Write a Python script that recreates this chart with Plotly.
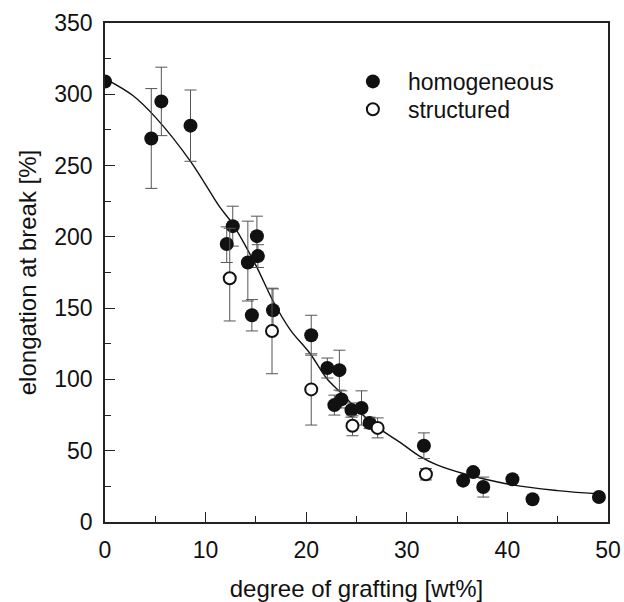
import plotly.graph_objects as go

# homogeneous samples
hom_x = [0, 4.6, 5.6, 8.5, 12.1, 12.7, 14.2, 15.1, 15.2, 14.6, 16.7, 20.5, 22.1, 23.3,
         22.8, 23.5, 24.5, 25.5, 26.3, 31.7, 35.6, 36.6, 37.6, 40.5, 42.5, 49.1]
hom_y = [309, 269, 295, 278, 195, 207.5, 182, 200.5, 186.5, 145, 148.5, 131, 108, 106.5,
         82, 86, 78.5, 80, 69.5, 53.5, 29, 35, 24.5, 30, 16, 17.5]
hom_err_plus = [0, 35, 24, 25, 12, 14, 29, 14, 8, 11, 15, 14, 7, 14,
                7, 6, 5, 12, 4, 9, 0, 0, 7, 0, 0, 0]
hom_err_minus = [0, 35, 24, 25, 13, 14, 27, 14, 8, 11, 15, 14, 7, 14,
                 7, 6, 5, 12, 4, 9, 0, 0, 7, 0, 0, 0]

# structured samples
str_x = [12.4, 16.6, 20.5, 24.6, 27.1, 31.9]
str_y = [171, 134, 93, 67.5, 66, 33.5]
str_err_plus = [35, 30, 25, 7, 7, 4]
str_err_minus = [30, 30, 25, 7, 7, 4]

# fitted curve
fit_x = [0, 2.8, 5, 8.5, 11.4, 12.7, 15, 16.7, 18.4, 20.4, 22, 23.4, 26.6, 29.3,
         31.3, 33, 35.6, 40.5, 45, 49.5]
fit_y = [311, 299, 284, 253, 221, 209, 180, 155, 135, 118, 101, 91, 69, 56,
         46, 40, 34, 26, 22, 19.5]

x_ticks = [0, 10, 20, 30, 40, 50]
y_ticks = [0, 50, 100, 150, 200, 250, 300, 350]

FONT = "Liberation Sans, Arial, Helvetica, sans-serif"
INK = "#111111"

fig = go.Figure()

fig.add_trace(go.Scatter(
    x=fit_x, y=fit_y, mode="lines", line=dict(color=INK, width=1.4, shape="spline"),
    showlegend=False, hoverinfo="skip"))

fig.add_trace(go.Scatter(
    x=hom_x, y=hom_y, mode="markers", name="homogeneous", legend="legend",
    marker=dict(symbol="circle", size=14, color=INK, line=dict(width=0)),
    error_y=dict(type="data", array=hom_err_plus, arrayminus=hom_err_minus,
                 color="#555555", thickness=1, width=6)))

fig.add_trace(go.Scatter(
    x=str_x, y=str_y, mode="markers", name="structured", legend="legend2",
    marker=dict(symbol="circle", size=12, color="white", line=dict(width=2, color=INK)),
    error_y=dict(type="data", array=str_err_plus, arrayminus=str_err_minus,
                 color="#555555", thickness=1, width=6)))

axis_common = dict(
    showline=True, linecolor="#222222", linewidth=1.5, mirror=True,
    ticks="inside", ticklen=10, tickwidth=1.2, tickcolor="#222222",
    showgrid=False, zeroline=False,
    tickfont=dict(family=FONT, size=23, color=INK),
)

fig.update_xaxes(
    range=[0, 50], tickvals=x_ticks, ticktext=[str(v) for v in x_ticks],
    ticklabelstandoff=7,
    minor=dict(dtick=5, ticks="inside", ticklen=6, tickcolor="#222222", tickwidth=1),
    title=dict(text="degree of grafting [wt%]", font=dict(family=FONT, size=24, color=INK),
               standoff=23),
    **axis_common)

fig.update_yaxes(
    range=[0, 350], tickvals=y_ticks, ticktext=[str(v) for v in y_ticks],
    ticklabelstandoff=6,
    minor=dict(dtick=25, ticks="inside", ticklen=6, tickcolor="#222222", tickwidth=1),
    title=dict(text="elongation at break [%]", font=dict(family=FONT, size=24, color=INK),
               standoff=11),
    **axis_common)

legend_common = dict(xanchor="left", yanchor="top",
                     font=dict(family=FONT, size=23, color=INK),
                     itemwidth=60, bgcolor="rgba(0,0,0,0)", borderwidth=0)

fig.update_layout(
    width=624, height=602,
    margin=dict(l=105, r=16, t=23, b=80, autoexpand=False),
    paper_bgcolor="white", plot_bgcolor="white",
    legend=dict(x=0.463, y=0.926, **legend_common),
    legend2=dict(x=0.463, y=0.870, **legend_common),
)

fig.write_html(
    "out.html",
    config={"displayModeBar": False},
    post_script="document.body.style.margin='0';document.body.style.overflow='hidden';",
)
